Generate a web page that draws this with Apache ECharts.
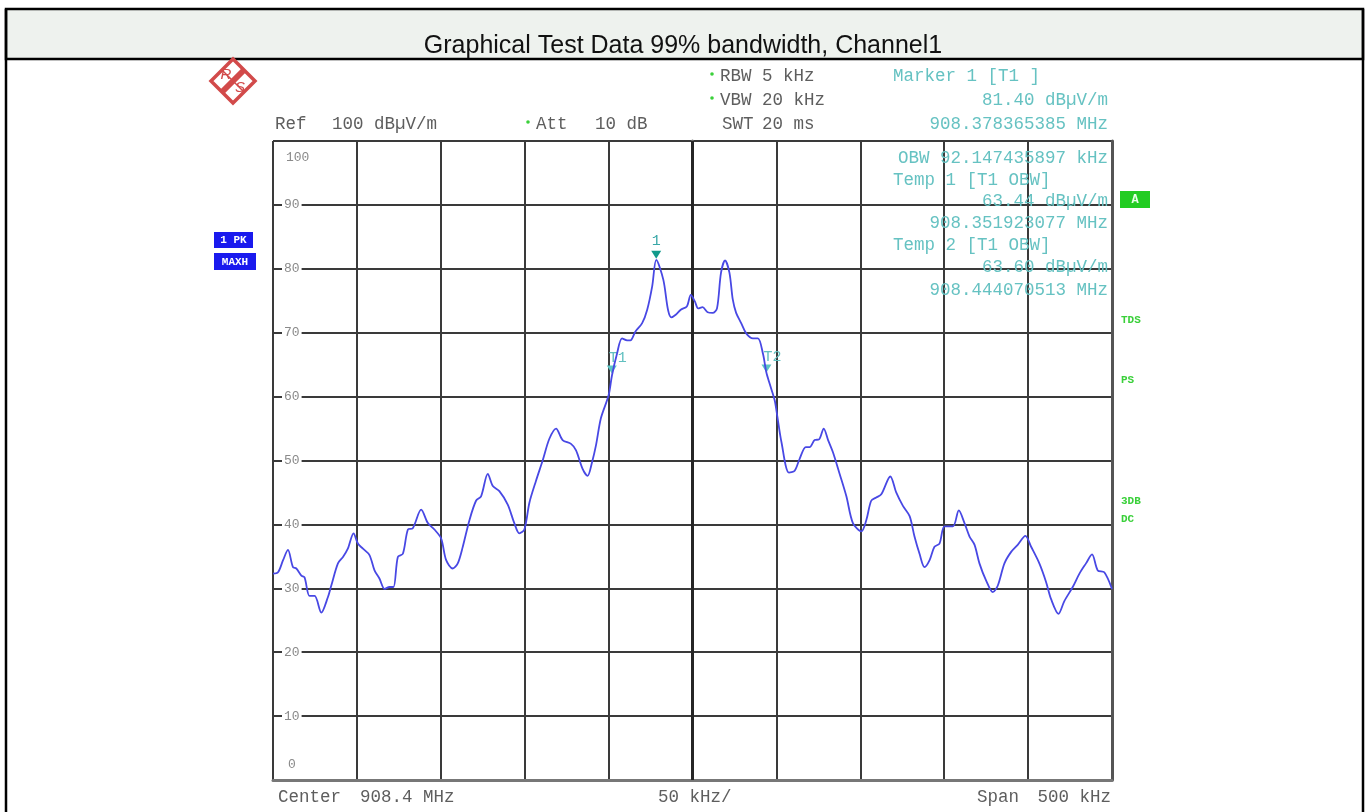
<!DOCTYPE html>
<html><head><meta charset="utf-8">
<script src="https://cdn.jsdelivr.net/npm/echarts@6/dist/echarts.min.js"></script>
<style>html,body{margin:0;padding:0;background:#fff}#c{width:1365px;height:812px}</style>
</head><body><div id="c"></div><script>
// Frequency offset from centre 908.4 MHz, in kHz
const freqKHz = [
 -250.0,-247.0,-244.0,-241.1,-238.1,-236.1,-233.1,-231.2,-228.2,-225.2,-221.2,-217.3,-215.3,-211.3,-208.3,-205.4,
 -202.0,-199.4,-196.4,-192.5,-189.5,-186.5,-183.5,-180.6,-178.2,-175.6,-172.6,-169.6,-166.7,-161.7,-157.7,-153.8,
 -149.8,-146.8,-142.9,-139.9,-136.9,-132.9,-129.0,-126.0,-122.0,-119.0,-115.1,-110.1,-106.2,-103.2,-100.2,-97.2,
 -93.3,-89.3,-85.3,-81.3,-77.4,-72.4,-69.4,-65.5,-62.5,-59.9,-57.5,-54.6,
 -50.0,-48.0,-45.0,-42.0,-39.0,-37.0,-34.0,-30.0,-27.0,-24.0,-21.6,-17.4,-14.6,-12.6,-10.0,-7.0,-3.4,-1.0,
 1.4,3.4,6.0,9.0,12.0,14.6,17.0,19.4,22.0,24.0,26.0,29.0,32.0,36.0,39.0,42.0,44.0,46.0,49.0,
 50.5,53.0,57.5,60.9,63.9,67.5,69.8,72.8,75.4,78.2,80.8,83.7,87.7,91.7,95.6,100.6,103.6,106.5,109.5,112.5,
 117.9,121.4,125.4,129.4,132.3,135.3,138.3,141.3,144.2,147.2,150.2,155.2,158.7,162.1,165.1,168.1,171.0,175.0,
 179.0,181.9,185.9,189.9,193.8,198.4,201.8,206.7,210.7,213.7,218.1,221.6,226.6,230.6,234.5,238.1,241.5,245.4,250.0
];
// Trace level, dBµV/m
const levelDB = [
 32.3,32.5,34.4,36.0,33.3,33.1,32.0,31.7,28.8,28.8,26.2,28.6,30.4,33.9,34.9,36.2,
 38.6,37.0,36.2,35.2,32.8,31.5,29.9,30.2,30.2,34.9,35.4,39.2,39.4,42.3,40.2,39.2,
 37.8,34.4,33.1,33.9,36.5,40.7,43.7,44.4,47.9,46.0,45.2,43.1,40.2,38.6,39.2,43.4,
 46.8,50.0,53.4,55.0,53.2,52.6,51.6,48.7,47.6,49.7,52.4,56.6,
 60.2,63.3,66.7,69.1,68.8,68.8,70.2,71.5,73.6,77.3,81.4,78.3,73.6,72.4,72.8,73.6,74.1,75.9,
 74.9,73.8,74.0,73.2,73.1,73.8,79.4,81.3,79.4,75.2,73.1,71.5,69.9,69.1,69.1,66.7,63.8,62.0,59.4,
 57.0,52.9,48.1,48.4,50.3,52.1,52.1,53.2,53.3,55.0,53.2,51.3,47.9,44.4,40.2,38.9,40.7,43.7,44.2,44.7,
 47.5,45.0,42.9,41.3,38.1,35.4,33.3,34.4,36.5,37.0,39.7,39.7,42.2,40.2,38.1,36.8,33.9,31.2,
 29.4,30.4,33.9,35.7,36.8,38.2,36.5,33.9,31.0,28.3,26.0,28.0,30.2,32.3,33.9,35.3,32.8,32.5,29.9
];
const markerNames = ['1', 'T1', 'T2'];
const markerFreqKHz = [-21.635, -48.077, 44.071];
const markerLevel = [81.40, 63.44, 63.60];

const headerTitle = 'Graphical Test Data 99% bandwidth, Channel1';
const leftTop = [['Ref', '100 dBµV/m'], ['Att', '10 dB']];
const setupRows = [['RBW', '5 kHz', true], ['VBW', '20 kHz', true], ['SWT', '20 ms', false]];
const markerRows = ['Marker 1 [T1 ]', '81.40 dBµV/m', '908.378365385 MHz'];
const obwRows = ['OBW 92.147435897 kHz', 'Temp 1 [T1 OBW]', '63.44 dBµV/m', '908.351923077 MHz',
                 'Temp 2 [T1 OBW]', '63.60 dBµV/m', '908.444070513 MHz'];
const obwAlign = ['right', 'left', 'right', 'right', 'left', 'right', 'right'];
const bottomTexts = ['Center', '908.4 MHz', '50 kHz/', 'Span', '500 kHz'];
const sideFlags = ['TDS', 'PS', '3DB', 'DC'];

const MONO = '"Liberation Mono","DejaVu Sans Mono",monospace';
const GREY = '#5e5e5e', CYAN = '#66c2c2', GREEN = '#3ad03a';

function T(x, y, text, fill, size, align, weight, family, z) {
  return { type: 'text', z: z || 100, silent: true,
    style: { x: x, y: y, text: text, fill: fill, align: align || 'left', verticalAlign: 'middle',
      font: (weight || 'normal') + ' ' + size + 'px ' + (family || MONO) } };
}
const fs = 17.5;
const g = [];
// outer frame & header
g.push({ type: 'rect', z: 1, shape: { x: 6, y: 9, width: 1357, height: 50 }, style: { fill: '#eef2ee', stroke: '#000', lineWidth: 2.5 } });
g.push({ type: 'line', z: 1, shape: { x1: 6, y1: 9, x2: 6, y2: 812 }, style: { stroke: '#000', lineWidth: 2.5 } });
g.push({ type: 'line', z: 1, shape: { x1: 1363, y1: 9, x2: 1363, y2: 812 }, style: { stroke: '#000', lineWidth: 2.5 } });
g.push(T(683, 46, headerTitle, '#111', 25, 'center', 'normal', '"Liberation Sans",Arial,sans-serif'));
// R&S logo
const cx = 233, cy = 81, r = 22;
g.push({ type: 'polygon', z: 50, shape: { points: [[cx, cy - r], [cx + r, cy], [cx, cy + r], [cx - r, cy]] }, style: { fill: '#fff', stroke: '#d24a4a', lineWidth: 3.5 } });
g.push({ type: 'line', z: 51, shape: { x1: cx + r / 2, y1: cy - r / 2, x2: cx - r / 2, y2: cy + r / 2 }, style: { stroke: '#d24a4a', lineWidth: 6 } });
g.push({ type: 'line', z: 51, shape: { x1: cx - r / 2, y1: cy - r / 2, x2: cx + r / 2, y2: cy + r / 2 }, style: { stroke: '#d24a4a', lineWidth: 1.5 } });
g.push(T(cx - 7, cy - 6, 'R', '#d24a4a', 15, 'center', 'italic', '"Liberation Sans",sans-serif', 52));
g.push(T(cx + 7, cy + 7, 'S', '#d24a4a', 15, 'center', 'italic', '"Liberation Sans",sans-serif', 52));
// Ref / Att
g.push(T(275, 124, leftTop[0][0], GREY, fs));
g.push(T(332, 124, leftTop[0][1], GREY, fs));
g.push({ type: 'circle', z: 100, shape: { cx: 528, cy: 122, r: 1.8 }, style: { fill: GREEN } });
g.push(T(536, 124, leftTop[1][0], GREY, fs));
g.push(T(595, 124, leftTop[1][1], GREY, fs));
// RBW/VBW/SWT
setupRows.forEach(function (row, i) {
  const y = 76 + i * 24;
  if (row[2]) g.push({ type: 'circle', z: 100, shape: { cx: 712, cy: y - 2, r: 1.8 }, style: { fill: GREEN } });
  g.push(T(i === 2 ? 722 : 720, y, row[0], GREY, fs));
  g.push(T(762, y, row[1], GREY, fs));
});
// marker block
g.push(T(893, 76, markerRows[0], CYAN, fs));
g.push(T(1108, 100, markerRows[1], CYAN, fs, 'right'));
g.push(T(1108, 124, markerRows[2], CYAN, fs, 'right'));
const obwY = [158, 180, 201, 223, 245, 267, 290];
obwRows.forEach(function (t, i) {
  g.push(T(obwAlign[i] === 'right' ? 1108 : 893, obwY[i], t, CYAN, fs, obwAlign[i]));
});
// left status boxes
g.push({ type: 'rect', z: 100, shape: { x: 214, y: 232, width: 39, height: 16 }, style: { fill: '#1a1aee' } });
g.push(T(233.5, 240.5, '1 PK', '#fff', 11, 'center', 'bold'));
g.push({ type: 'rect', z: 100, shape: { x: 214, y: 253, width: 42, height: 17 }, style: { fill: '#1a1aee' } });
g.push(T(235, 262, 'MAXH', '#fff', 11, 'center', 'bold'));
// right flags
g.push({ type: 'rect', z: 100, shape: { x: 1120, y: 191, width: 30, height: 17 }, style: { fill: '#22cc22' } });
g.push(T(1135, 200, 'A', '#e8ffe8', 12, 'center', 'bold'));
[320, 380, 501, 519].forEach(function (y, i) { g.push(T(1121, y, sideFlags[i], GREEN, 11, 'left', 'bold')); });
// bottom
g.push(T(278, 797, bottomTexts[0], GREY, fs));
g.push(T(360, 797, bottomTexts[1], GREY, fs));
g.push(T(658, 797, bottomTexts[2], GREY, fs));
g.push(T(977, 797, bottomTexts[3], GREY, fs));
g.push(T(1111, 797, bottomTexts[4], GREY, fs, 'right'));
// in-plot 100 / 0 labels
g.push(T(286, 158, '100', '#8a8a8a', 13));
g.push(T(288, 765, '0', '#8a8a8a', 13));

const chart = echarts.init(document.getElementById('c'), null, { renderer: 'canvas' });
chart.setOption({
  animation: false,
  backgroundColor: '#fff',
  grid: { left: 273, right: 253, top: 141, bottom: 32, containLabel: false },
  xAxis: { type: 'value', min: -250, max: 250, interval: 50,
    axisLine: { show: true, onZero: false, lineStyle: { color: '#777', width: 3 } },
    axisTick: { show: false }, axisLabel: { show: false },
    splitLine: { show: true, lineStyle: { color: '#3a3a3a', width: 2 } } },
  yAxis: [{ type: 'value', min: 0, max: 100, interval: 10,
    axisLine: { show: true, lineStyle: { color: '#6a6a6a', width: 3 } },
    axisTick: { show: false },
    axisLabel: { inside: true, margin: 9, color: '#8a8a8a', fontFamily: MONO, fontSize: 13,
      backgroundColor: '#fff', padding: [0, 2, 0, 2],
      formatter: function (v) { return (v === 0 || v === 100) ? '' : String(v); } },
    splitLine: { show: true, lineStyle: { color: '#3a3a3a', width: 2 } } },
   { type: 'value', min: 0, max: 100, interval: 10, position: 'right',
    axisLine: { show: true, lineStyle: { color: '#555', width: 3 } },
    axisTick: { show: false }, axisLabel: { show: false }, splitLine: { show: false } }],
  graphic: g,
  series: [{
    type: 'line', data: freqKHz.map(function (f, i) { return [f, levelDB[i]]; }),
    showSymbol: false, smooth: 0.3, z: 5,
    lineStyle: { color: '#4848e4', width: 1.8 },
    markLine: { silent: true, symbol: 'none', label: { show: false },
      lineStyle: { color: '#262626', width: 3, type: 'solid' }, data: [{ xAxis: 0 }] },
    markPoint: {
      symbol: 'triangle', symbolRotate: 180, symbolSize: [10, 8], symbolOffset: [0, -5],
      data: markerNames.map(function (n, i) {
        return { name: n, coord: [markerFreqKHz[i], markerLevel[i]],
          itemStyle: { color: i === 0 ? '#129a8c' : '#5cc4c4' },
          label: { show: true, formatter: n, position: 'top', distance: 2, offset: i === 0 ? [0, 0] : [6, 2],
            color: i === 0 ? '#3aa8a8' : '#62c0c0', fontFamily: MONO, fontSize: 15 } };
      })
    }
  }]
});
</script></body></html>
